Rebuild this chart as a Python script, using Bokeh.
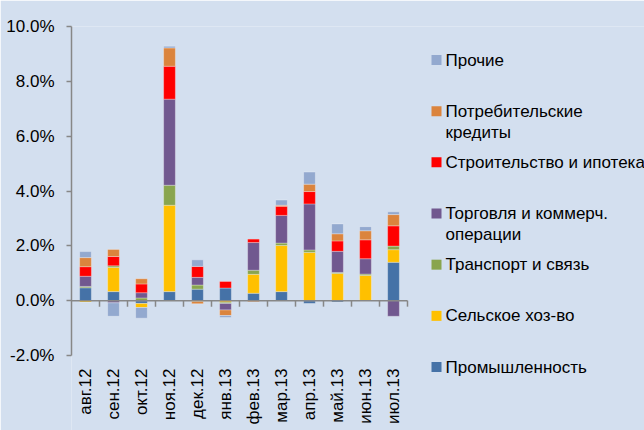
import numpy as np
from bokeh.plotting import figure
from bokeh.models import Range1d, FixedTicker, PrintfTickFormatter, ColumnDataSource
from bokeh.core.properties import value
from bokeh.embed import file_html
from bokeh.resources import INLINE

months = ["авг.12", "сен.12", "окт.12", "ноя.12", "дек.12", "янв.13",
          "фев.13", "мар.13", "апр.13", "май.13", "июн.13", "июл.13"]

# values in % (stack order bottom-up)
prom   = [0.47, 0.33, -0.10, 0.33, 0.42, 0.46, 0.27, 0.33, -0.10, -0.05, 0.00, 1.40]
selh   = [-0.05, 0.88, -0.15, 3.15, -0.03, -0.06, 0.69, 1.68, 1.76, 0.99, 0.92, 0.46]
trans  = [0.05, 0.06, 0.10, 0.73, 0.15, -0.04, 0.15, 0.09, 0.09, 0.04, 0.05, 0.13]
torg   = [0.37, -0.08, 0.19, 3.14, 0.28, -0.24, 1.01, 1.01, 1.68, 0.77, 0.56, -0.57]
stroy  = [0.35, 0.34, 0.32, 1.20, 0.40, 0.24, 0.13, 0.33, 0.45, 0.38, 0.69, 0.74]
potreb = [0.33, 0.26, 0.19, 0.67, -0.08, -0.20, -0.04, 0.04, 0.27, 0.26, 0.33, 0.41]
proch  = [0.22, -0.49, -0.39, 0.06, 0.24, -0.07, 0.02, 0.19, 0.44, 0.36, 0.15, 0.10]

names = ["Промышленность", "Сельское хоз-во", "Транспорт и связь",
         "Торговля и коммерч.\nоперации", "Строительство и ипотека",
         "Потребительские\nкредиты", "Прочие"]
colors = ["#4572A7", "#FFC000", "#89A54E", "#71588F", "#FF0000", "#DB843D", "#93A9CF"]
series = [prom, selh, trans, torg, stroy, potreb, proch]

y_ticks = [-2, 0, 2, 4, 6, 8, 10]
Y_MIN, Y_MAX = -2, 10

BG = "#D3DFEF"
AX = "#878787"
FONT = "Liberation Sans"

# layout in pixels: value axis spans TOP..AXIS_BOTTOM, categories start at LEFT
W, H = 644, 430
LEFT, TOP, AXIS_BOTTOM = 71, 26, 355
CAT_PX = 28.0
PX_PER_Y = (AXIS_BOTTOM - TOP) / (Y_MAX - Y_MIN)
X0 = -0.5
X1 = X0 + (W - LEFT) / CAT_PX
Y0 = Y_MAX - (H - TOP) / PX_PER_Y     # frame runs to canvas bottom (labels + legend live in it)

def px_x(px):
    return X0 + (px - LEFT) / CAT_PX

def px_y(py):
    return Y_MAX - (py - TOP) / PX_PER_Y

p = figure(width=W, height=H, x_range=Range1d(X0, X1), y_range=Range1d(Y0, Y_MAX),
           output_backend="svg", toolbar_location=None, x_axis_location=None,
           min_border_left=LEFT, min_border_right=0, min_border_top=TOP, min_border_bottom=0)
p.background_fill_color = BG
p.border_fill_color = BG
p.outline_line_color = None
p.grid.visible = False

n = len(months)
x = np.arange(n)
pos_base = np.zeros(n)
neg_base = np.zeros(n)
for name, vals, col in zip(names, series, colors):
    v = np.array(vals, dtype=float)
    bottom = np.where(v >= 0, pos_base, neg_base)
    top = bottom + v
    pos_base = np.where(v >= 0, top, pos_base)
    neg_base = np.where(v < 0, top, neg_base)
    src = ColumnDataSource(dict(x=x, top=top, bottom=bottom))
    p.vbar(x="x", top="top", bottom="bottom", width=0.42, source=src,
           fill_color=col, line_color="white", line_alpha=0.3, line_width=1)

# zero line with category-boundary ticks
p.segment(x0=[X0], y0=[0], x1=[n - 0.5], y1=[0], line_color=AX, line_width=1.5)
bounds = x + 0.5
tick_len = 6 / PX_PER_Y
p.segment(x0=bounds, y0=np.zeros(n), x1=bounds, y1=np.full(n, -tick_len),
          line_color=AX, line_width=1.5)

ya = p.yaxis[0]
ya.bounds = (Y_MIN, Y_MAX)
ya.ticker = FixedTicker(ticks=y_ticks)
ya.formatter = PrintfTickFormatter(format="%.1f%%")
ya.major_tick_out = 5
ya.major_tick_in = 0
ya.minor_tick_line_color = None
ya.axis_line_color = AX
ya.axis_line_width = 1.5
ya.major_tick_line_color = AX
ya.major_tick_line_width = 1.5
ya.major_label_text_font = FONT
ya.major_label_text_font_size = "17px"
ya.major_label_text_color = "#000000"
ya.major_label_standoff = 12

# category labels, rotated, hanging below the value axis
p.text(x=x, y=np.full(n, px_y(368)), text=months, angle=np.pi / 2,
       text_font=value(FONT), text_font_size=value("17px"), text_color="#000000",
       text_align="right", text_baseline="middle")

# legend (reversed order, evenly spaced slots, continuation lines below)
first_center, slot, line_h = 59.5, 51.17, 21.0
sq_y, sq_c, t_y, t_s = [], [], [], []
for i, (name, col) in enumerate(zip(reversed(names), reversed(colors))):
    cy = first_center + i * slot
    sq_y.append(px_y(cy))
    sq_c.append(col)
    for k, line in enumerate(name.split("\n")):
        t_y.append(px_y(cy + k * line_h))
        t_s.append(line)
p.scatter(x=[px_x(436)] * len(sq_y), y=sq_y, marker="square", size=10,
          fill_color=sq_c, line_color=None)
p.text(x=[px_x(445)] * len(t_y), y=t_y, text=t_s, text_font=value(FONT),
       text_font_size=value("17px"), text_color="#000000",
       text_baseline="middle", text_align="left")

open("out.html", "w").write(file_html(p, INLINE))
